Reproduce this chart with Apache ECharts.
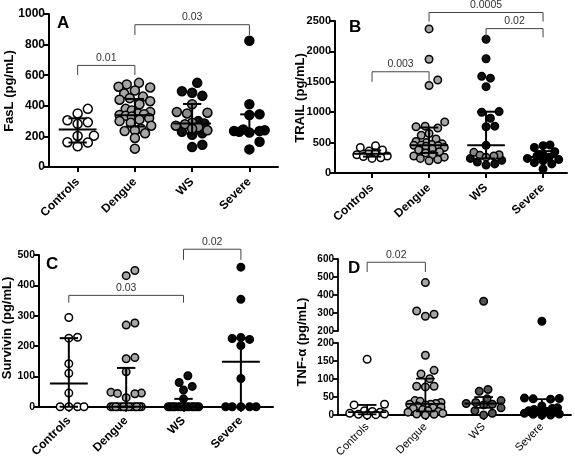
<!DOCTYPE html>
<html><head><meta charset="utf-8">
<script src="https://cdn.jsdelivr.net/npm/echarts@6/dist/echarts.min.js"></script>
<style>html,body{margin:0;padding:0;background:#fff}#c{width:575px;height:460px}</style>
</head><body><div id="c"></div>
<script>
const categories = ['Controls', 'Dengue', 'WS', 'Severe'];

// ---- Panel A: FasL (pg/mL)
const faslTicks = [0, 200, 400, 600, 800, 1000];
const faslControls = [380, 350, 305, 292, 282, 205, 203, 162, 160, 135];
const faslDengue = [550, 540, 525, 520, 500, 480, 460, 450, 440, 430, 410, 380, 370, 360, 350, 345, 340, 335, 330, 320, 310, 300, 290, 270, 250, 240, 235, 220, 190, 120];
const faslWS = [550, 495, 485, 465, 300, 285, 230, 220, 210, 145, 130];
const faslWSGrey = [410, 360, 355, 350, 290, 280, 270, 260, 250, 240];
const faslSevere = [825, 410, 345, 340, 245, 240, 235, 235, 230, 225, 165, 115];
const faslMedian = [245, 338, 285, 235];
const faslQ1 = [160, 265, 220, 228];
const faslQ3 = [318, 445, 412, 344];
const faslBrackets = [[0, 1, 664, 601], [1, 3, 930, 863]];
const faslBracketLabels = ['0.01', '0.03'];

// ---- Panel B: TRAIL (pg/mL)
const trailTicks = [0, 500, 1000, 1500, 2000, 2500];
const trailControls = [450, 420, 380, 360, 330, 300, 280, 270, 250, 240];
const trailDengue = [2370, 1870, 1530, 1440, 840, 770, 760, 740, 650, 620, 560, 520, 500, 480, 470, 460, 455, 450, 440, 420, 400, 380, 350, 330, 300, 280, 260, 240, 220, 200];
const trailWS = [2200, 1880, 1590, 1560, 1420, 1010, 1000, 900, 770, 760, 455, 240, 210, 180, 150, 130];
const trailWSGrey = [340, 300, 290, 280, 260];
const trailSevere = [460, 450, 420, 350, 300, 280, 260, 240, 220, 200, 170, 150, 65];
const trailMedian = [315, 457, 455, 262];
const trailQ1 = [270, 330, 240, 190];
const trailQ3 = [370, 748, 1008, 360];
const trailBrackets = [[0, 1, 1665, 1500], [1, 3, 2640, 2490], [2, 3, 2375, 2230]];
const trailBracketLabels = ['0.003', '0.0005', '0.02'];

// ---- Panel C: Survivin (pg/mL)
const survTicks = [0, 100, 200, 300, 400, 500];
const survControls = [294, 229, 226, 142, 110, 45, 0, 0, 0, 0];
const survDengue = [449, 432, 276, 269, 162, 158, 115, 48, 45, 44, 43, 30, 0, 0, 0, 0, 0, 0, 0, 0, 0, 0, 0, 0, 0];
const survWS = [102, 80, 67, 55, 26, 0, 0, 0, 0, 0, 0, 0, 0, 0, 0, 0, 0, 0];
const survSevere = [460, 354, 228, 225, 222, 202, 93, 0, 0, 0, 0, 0];
const survMedian = [77, 0, 0, 148];
const survQ1 = [0, 0, 0, 0];
const survQ3 = [226, 128, 26, 226];
const survBrackets = [[0, 2, 367, 343], [2, 3, 519, 484]];
const survBracketLabels = ['0.03', '0.02'];

// ---- Panel D: TNF-α (pg/mL), broken axis
const tnfTicksLow = [0, 50, 100, 150, 200];
const tnfTicksHigh = [200, 300, 400, 500, 600];
const tnfControls = [155, 30, 28, 12, 10, 8, 5, 3, 2, 1, 0];
const tnfDengue = [469, 311, 293, 282, 166, 124, 114, 101, 80, 80, 78, 40, 38, 35, 32, 30, 30, 28, 25, 22, 20, 18, 15, 12, 10, 8, 5, 3, 2, 0];
const tnfWS = [365, 71, 66, 45, 40, 35, 32, 30, 28, 20, 12, 5, 0];
const tnfSevere = [254, 47, 46, 45, 44, 25, 20, 18, 15, 12, 12, 10, 8, 5, 3, 2, 0, 0];
const tnfMedian = [8, 31, 32, 13];
const tnfQ1 = [2, 10, 20, 4];
const tnfQ3 = [28, 101, 50, 44];
const tnfBrackets = [[0, 1, 582, 528]];
const tnfBracketLabels = ['0.02'];

// ================= layout / styles =================
const FONT = '"Liberation Sans", Arial, Helvetica, sans-serif';
const FILL = {ctrl: '#ffffff', deng: '#a6a6a6', ws: '#111111', wsGrey: '#8a8a8a', wsD: '#555555', sev: '#000000'};

const grids = [
  {left: 49, top: 14, width: 229, height: 153, xMin: -0.5, xMax: 3.5, ticks: faslTicks, tickFont: 12, sym: 9, lw: 2, labelFont: 12, labelWeight: 'bold', rotate: 45, margin: 13, showX: true},
  {left: 335, top: 21, width: 232, height: 152, xMin: -0.65, xMax: 3.42, ticks: trailTicks, tickFont: 11, sym: 7.5, lw: 2, labelFont: 12, labelWeight: 'bold', rotate: 42, margin: 13, showX: true},
  {left: 39, top: 255, width: 234, height: 154, xMin: -0.52, xMax: 3.56, ticks: survTicks, tickFont: 10.5, sym: 7.5, lw: 2, labelFont: 12, labelWeight: 'bold', rotate: 45, margin: 12, showX: true},
  {left: 338, top: 259, width: 233, height: 72, xMin: -0.5, xMax: 3.5, ticks: tnfTicksHigh, tickFont: 10, sym: 7.5, lw: 1.8, labelFont: 11, labelWeight: 'normal', rotate: 45, margin: 10, showX: false},
  {left: 338, top: 343, width: 233, height: 73, xMin: -0.5, xMax: 3.5, ticks: tnfTicksLow, tickFont: 10, sym: 7.5, lw: 1.8, labelFont: 11, labelWeight: 'normal', rotate: 45, margin: 10, showX: true}
];

function swarm(vals, pxPerUnit, d, maxHalf) {
  const order = vals.map((v, i) => i).sort((a, b) => vals[a] - vals[b]);
  const placed = [];
  const out = new Array(vals.length).fill(0);
  order.forEach(i => {
    const y = vals[i] * pxPerUnit;
    let best = null;
    for (let f = 1; f >= 0.55 && best === null; f -= 0.1) {
      const md = d * f, step = md / 2;
      for (let k = 0; step * k <= maxHalf && best === null; k++) {
        const cands = k === 0 ? [0] : [k * step, -k * step];
        for (const c of cands) {
          if (placed.every(p => Math.hypot(p.x - c, p.y - y) >= md - 0.01)) { best = c; break; }
        }
      }
    }
    if (best === null) {
      let bestScore = -1;
      const step = d * 0.3;
      for (let k = 0; step * k <= maxHalf; k++) {
        for (const c of (k === 0 ? [0] : [k * step, -k * step])) {
          const s = Math.min(...placed.map(p => Math.hypot(p.x - c, p.y - y)));
          if (s > bestScore + 0.01) { bestScore = s; best = c; }
        }
      }
    }
    placed.push({x: best, y});
    out[i] = best;
  });
  return out;
}

const series = [];

function addGroups(gi, groups, filter) {
  const g = grids[gi];
  const t = g.ticks;
  const pxPerUnit = g.height / (t[t.length - 1] - t[0]);
  const band = g.width / (g.xMax - g.xMin);
  const d = g.sym + 1.2;
  groups.forEach(gr => {
    const items = [];
    gr.parts.forEach(p => p.vals.filter(filter).forEach(v => items.push({v, fill: p.fill})));
    const offs = swarm(items.map(it => it.v), pxPerUnit, d, band * 0.3);
    series.push({
      type: 'scatter', xAxisIndex: gi, yAxisIndex: gi, symbol: 'circle', symbolSize: g.sym,
      silent: true, animation: false, z: 2,
      data: items.map((it, k) => ({value: [gr.idx + offs[k] / band, it.v], itemStyle: {color: it.fill}})),
      itemStyle: {borderColor: '#000', borderWidth: 1.5, opacity: 1}
    });
  });
}

function addStats(gi, med, q1, q3) {
  const lw = grids[gi].lw;
  series.push({
    type: 'custom', xAxisIndex: gi, yAxisIndex: gi, z: 3, silent: true, animation: false,
    data: categories.map((c, i) => [i, med[i], q1[i], q3[i]]),
    renderItem(params, api) {
      const i = api.value(0);
      const m1 = api.coord([i - 0.33, api.value(1)]), m2 = api.coord([i + 0.33, api.value(1)]);
      const a = api.coord([i, api.value(2)]), b = api.coord([i, api.value(3)]);
      const c1 = api.coord([i - 0.16, 0])[0], c2 = api.coord([i + 0.16, 0])[0];
      const st = {stroke: '#000', lineWidth: lw};
      return {type: 'group', children: [
        {type: 'line', shape: {x1: m1[0], y1: m1[1], x2: m2[0], y2: m2[1]}, style: st},
        {type: 'line', shape: {x1: a[0], y1: a[1], x2: b[0], y2: b[1]}, style: st},
        {type: 'line', shape: {x1: c1, y1: a[1], x2: c2, y2: a[1]}, style: st},
        {type: 'line', shape: {x1: c1, y1: b[1], x2: c2, y2: b[1]}, style: st}
      ]};
    }
  });
}

function addBrackets(gi, br, labels) {
  series.push({
    type: 'custom', xAxisIndex: gi, yAxisIndex: gi, z: 4, silent: true, animation: false, clip: false,
    data: br,
    renderItem(params, api) {
      const p1 = api.coord([api.value(0), api.value(2)]);
      const p2 = api.coord([api.value(1), api.value(2)]);
      const t1 = api.coord([api.value(0), api.value(3)]);
      const t2 = api.coord([api.value(1), api.value(3)]);
      return {type: 'group', children: [
        {type: 'polyline', shape: {points: [t1, p1, p2, t2]}, style: {stroke: '#444', lineWidth: 1, fill: null}},
        {type: 'text', x: (p1[0] + p2[0]) / 2, y: p1[1] - 2,
          style: {text: labels[params.dataIndex], fill: '#333', font: '10.5px ' + FONT, align: 'center', verticalAlign: 'bottom'}}
      ]};
    }
  });
}

const all = () => true;
addGroups(0, [
  {idx: 0, parts: [{vals: faslControls, fill: FILL.ctrl}]},
  {idx: 1, parts: [{vals: faslDengue, fill: FILL.deng}]},
  {idx: 2, parts: [{vals: faslWS, fill: FILL.ws}, {vals: faslWSGrey, fill: FILL.wsGrey}]},
  {idx: 3, parts: [{vals: faslSevere, fill: FILL.sev}]}
], all);
addStats(0, faslMedian, faslQ1, faslQ3);
addBrackets(0, faslBrackets, faslBracketLabels);

addGroups(1, [
  {idx: 0, parts: [{vals: trailControls, fill: FILL.ctrl}]},
  {idx: 1, parts: [{vals: trailDengue, fill: FILL.deng}]},
  {idx: 2, parts: [{vals: trailWS, fill: FILL.ws}, {vals: trailWSGrey, fill: FILL.wsGrey}]},
  {idx: 3, parts: [{vals: trailSevere, fill: FILL.sev}]}
], all);
addStats(1, trailMedian, trailQ1, trailQ3);
addBrackets(1, trailBrackets, trailBracketLabels);

addGroups(2, [
  {idx: 0, parts: [{vals: survControls, fill: FILL.ctrl}]},
  {idx: 1, parts: [{vals: survDengue, fill: FILL.deng}]},
  {idx: 2, parts: [{vals: survWS, fill: FILL.ws}]},
  {idx: 3, parts: [{vals: survSevere, fill: FILL.sev}]}
], all);
addStats(2, survMedian, survQ1, survQ3);
addBrackets(2, survBrackets, survBracketLabels);

const tnfGroups = [
  {idx: 0, parts: [{vals: tnfControls, fill: FILL.ctrl}]},
  {idx: 1, parts: [{vals: tnfDengue, fill: FILL.deng}]},
  {idx: 2, parts: [{vals: tnfWS, fill: FILL.wsD}]},
  {idx: 3, parts: [{vals: tnfSevere, fill: FILL.sev}]}
];
addGroups(3, tnfGroups, v => v > tnfTicksLow[tnfTicksLow.length - 1]);
addGroups(4, tnfGroups, v => v <= tnfTicksLow[tnfTicksLow.length - 1]);
addStats(4, tnfMedian, tnfQ1, tnfQ3);
addBrackets(3, tnfBrackets, tnfBracketLabels);

const xAxis = grids.map((g, i) => ({
  gridIndex: i, type: 'value', min: g.xMin, max: g.xMax, show: g.showX,
  axisLine: {show: true, onZero: false, lineStyle: {color: '#000', width: g.lw}},
  axisTick: {show: true, customValues: [0, 1, 2, 3], length: 5, lineStyle: {color: '#000', width: g.lw}},
  axisLabel: {customValues: [0, 1, 2, 3], formatter: v => categories[Math.round(v)] || '', rotate: g.rotate, margin: g.margin,
    fontFamily: FONT, fontWeight: g.labelWeight, fontSize: g.labelFont, color: '#000'},
  splitLine: {show: false}
}));
const yAxis = grids.map((g, i) => ({
  gridIndex: i, type: 'value', min: g.ticks[0], max: g.ticks[g.ticks.length - 1], interval: g.ticks[1] - g.ticks[0],
  axisLine: {show: true, onZero: false, lineStyle: {color: '#000', width: g.lw}},
  axisTick: {show: true, length: 5, lineStyle: {color: '#000', width: g.lw}},
  axisLabel: {formatter: v => String(v), fontFamily: FONT, fontWeight: 'bold', fontSize: g.tickFont, color: '#000', margin: 4},
  splitLine: {show: false}
}));

const letter = (t, x, y) => ({type: 'text', x, y, style: {text: t, font: 'bold 17px ' + FONT, fill: '#000', verticalAlign: 'middle'}});
const ytitle = (t, x, y) => ({type: 'text', x, y, rotation: Math.PI / 2,
  style: {text: t, font: 'bold 13px ' + FONT, fill: '#000', align: 'center', verticalAlign: 'middle'}});

const chart = echarts.init(document.getElementById('c'), null, {renderer: 'canvas'});
chart.setOption({
  animation: false,
  backgroundColor: '#fff',
  grid: grids.map(g => ({left: g.left, top: g.top, width: g.width, height: g.height, containLabel: false})),
  xAxis, yAxis, series,
  graphic: [
    letter('A', 57, 23), letter('B', 349, 27), letter('C', 46, 264), letter('D', 348, 268),
    ytitle('FasL (pg/mL)', 9, 91), ytitle('TRAIL (pg/mL)', 300, 98),
    ytitle('Survivin (pg/mL)', 7, 328), ytitle('TNF-\u03b1 (pg/mL)', 302, 342)
  ]
});
</script></body></html>
